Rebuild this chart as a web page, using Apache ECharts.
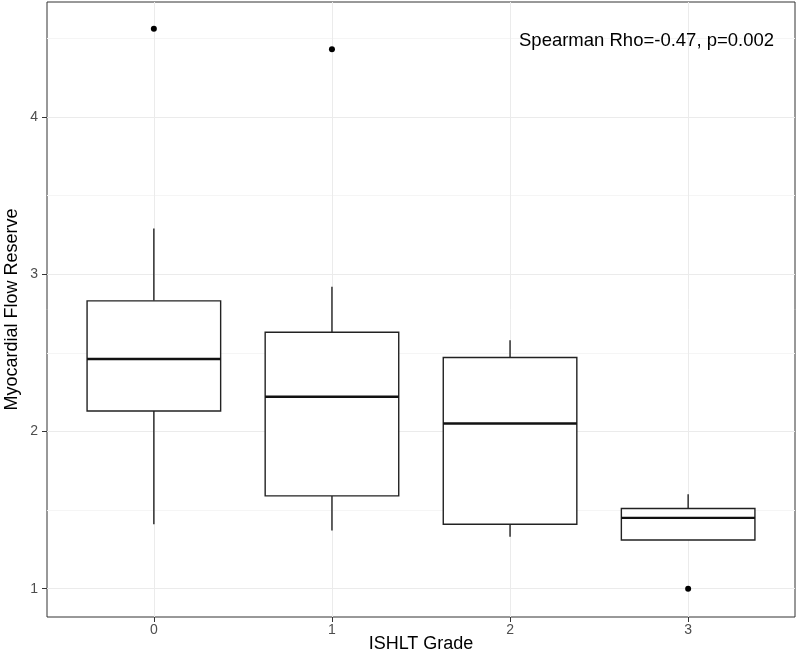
<!DOCTYPE html>
<html><head><meta charset="utf-8">
<script src="https://cdn.jsdelivr.net/npm/echarts@6/dist/echarts.min.js"></script>
<style>html,body{margin:0;padding:0;background:#fff}#c{width:800px;height:654px}</style>
</head><body><div id="c"></div>
<script>
const categories = ['0', '1', '2', '3'];
const whiskerLow = [1.41, 1.37, 1.33, 1.31];
const q1 = [2.13, 1.59, 1.41, 1.31];
const median = [2.46, 2.22, 2.05, 1.45];
const q3 = [2.83, 2.63, 2.47, 1.51];
const whiskerHigh = [3.29, 2.92, 2.58, 1.60];
const outlierGroup = [0, 1, 3];
const outlierValue = [4.56, 4.43, 1.00];
const xTicks = [0, 1, 2, 3];
const yTicks = [1, 2, 3, 4];
const yMinor = [1.5, 2.5, 3.5, 4.5];
const annotation = 'Spearman Rho=-0.47, p=0.002';

const FONT = '"Liberation Sans", Arial, sans-serif';
const boxData = categories.map((c, i) => [i, whiskerLow[i], q1[i], median[i], q3[i], whiskerHigh[i]]);
const outlierData = outlierGroup.map((g, i) => [g, outlierValue[i]]);

const chart = echarts.init(document.getElementById('c'), null, {renderer: 'canvas'});
const yRange = {min: 0.82, max: 4.73};
chart.setOption({
  animation: false,
  backgroundColor: '#fff',
  grid: {left: 47, right: 5, top: 2, bottom: 37, outerBoundsMode: 'none', containLabel: false,
         show: true, borderColor: '#333', borderWidth: 1, backgroundColor: 'transparent'},
  xAxis: {
    type: 'value', min: -0.6, max: 3.6,
    name: 'ISHLT Grade', nameLocation: 'middle', nameGap: 18, nameMoveOverlap: false,
    nameTextStyle: {fontSize: 18, color: '#000', fontFamily: FONT},
    axisLine: {show: false, onZero: false},
    axisTick: {show: true, length: 5, customValues: xTicks, lineStyle: {color: '#333', width: 1}},
    axisLabel: {customValues: xTicks, margin: 6, fontSize: 14, color: '#4d4d4d', fontFamily: FONT, formatter: v => categories[Math.round(v)]},
    splitLine: {show: true, customValues: xTicks, lineStyle: {color: '#ebebeb', width: 1}}
  },
  yAxis: [{
    type: 'value', min: yRange.min, max: yRange.max,
    name: 'Myocardial Flow Reserve', nameLocation: 'middle', nameGap: 26, nameMoveOverlap: false,
    nameTextStyle: {fontSize: 18, color: '#000', fontFamily: FONT},
    axisLine: {show: false, onZero: false},
    axisTick: {show: true, length: 5, customValues: yTicks, lineStyle: {color: '#333', width: 1}},
    axisLabel: {customValues: yTicks, margin: 9, fontSize: 14, color: '#4d4d4d', fontFamily: FONT},
    splitLine: {show: true, customValues: yTicks, lineStyle: {color: '#ebebeb', width: 1}}
  }, {
    type: 'value', min: yRange.min, max: yRange.max, position: 'left',
    axisLine: {show: false, onZero: false}, axisTick: {show: false, customValues: yMinor}, axisLabel: {show: false, customValues: yMinor},
    splitLine: {show: true, customValues: yMinor, lineStyle: {color: '#f5f5f5', width: 1}}
  }],
  graphic: [{
    type: 'text', left: 519, top: 31, z: 100,
    style: {text: annotation, fontSize: 18.5, fill: '#000', fontFamily: FONT}
  }],
  series: [{
    type: 'custom',
    data: boxData,
    encode: {x: 0, y: [1, 2, 3, 4, 5]},
    renderItem: function (params, api) {
      const x = api.value(0);
      const pLow = api.coord([x, api.value(1)]);
      const pQ1 = api.coord([x, api.value(2)]);
      const pMed = api.coord([x, api.value(3)]);
      const pQ3 = api.coord([x, api.value(4)]);
      const pHigh = api.coord([x, api.value(5)]);
      const halfW = api.size([0.75, 0])[0] / 2;
      const st = {stroke: '#222', lineWidth: 1.4};
      return {type: 'group', children: [
        {type: 'line', shape: {x1: pHigh[0], y1: pHigh[1], x2: pQ3[0], y2: pQ3[1]}, style: st},
        {type: 'line', shape: {x1: pLow[0], y1: pLow[1], x2: pQ1[0], y2: pQ1[1]}, style: st},
        {type: 'rect', shape: {x: pQ3[0] - halfW, y: pQ3[1], width: 2 * halfW, height: pQ1[1] - pQ3[1]}, style: {fill: '#fff', stroke: '#222', lineWidth: 1.4}},
        {type: 'line', shape: {x1: pMed[0] - halfW, y1: pMed[1], x2: pMed[0] + halfW, y2: pMed[1]}, style: {stroke: '#111', lineWidth: 2.4}}
      ]};
    }
  }, {
    type: 'scatter',
    data: outlierData,
    symbol: 'circle', symbolSize: 6,
    itemStyle: {color: '#000', opacity: 1}
  }]
});
</script></body></html>
